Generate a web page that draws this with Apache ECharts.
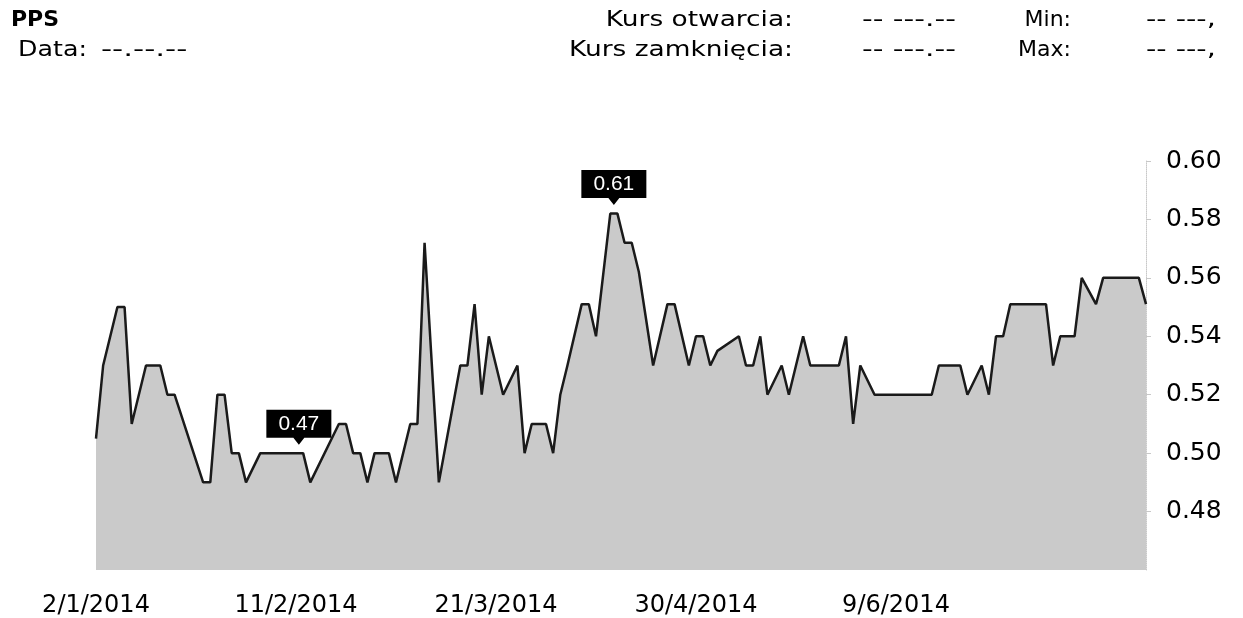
<!DOCTYPE html>
<html>
<head>
<meta charset="utf-8">
<title>PPS</title>
<script src="https://cdn.jsdelivr.net/npm/echarts@6/dist/echarts.min.js"></script>
<style>
    html, body { margin: 0; padding: 0; background: #fff; }
    #chart { width: 1243px; height: 618px; }
</style>
</head>
<body>
<div id="chart"></div>
<script>
// trading day index of each vertex of the close line
const dayIndex = [0, 1, 3, 4, 5, 7, 9, 10, 11, 15, 16, 17, 18, 19, 20, 21, 23, 29, 30,
    34, 35, 36, 37, 38, 39, 41, 42, 44, 45, 46, 48, 51, 52, 53, 54, 55, 57, 59, 60,
    61, 63, 64, 65, 66, 68, 69, 70, 72, 73, 74, 75, 76, 78, 80, 81, 83, 84, 85, 86,
    87, 90, 91, 92, 93, 94, 96, 97, 99, 100, 104, 105, 106, 107, 109, 117, 118, 121,
    122, 124, 125, 126, 127, 128, 133, 134, 135, 137, 138, 140, 141, 146, 147];
// close price at those days
const closeValues = [0.505, 0.53, 0.55, 0.55, 0.51, 0.53, 0.53, 0.52, 0.52, 0.49, 0.49, 0.52, 0.52, 0.50, 0.50, 0.49, 0.50, 0.50, 0.49,
    0.51, 0.51, 0.50, 0.50, 0.49, 0.50, 0.50, 0.49, 0.51, 0.51, 0.572, 0.49, 0.53, 0.53, 0.551, 0.52, 0.54, 0.52, 0.53, 0.50,
    0.51, 0.51, 0.50, 0.52, 0.53, 0.551, 0.551, 0.54, 0.582, 0.582, 0.572, 0.572, 0.562, 0.53, 0.551, 0.551, 0.53, 0.54, 0.54, 0.53,
    0.535, 0.54, 0.53, 0.53, 0.54, 0.52, 0.53, 0.52, 0.54, 0.53, 0.53, 0.54, 0.51, 0.53, 0.52, 0.52, 0.53, 0.53,
    0.52, 0.53, 0.52, 0.54, 0.54, 0.551, 0.551, 0.53, 0.54, 0.54, 0.56, 0.551, 0.56, 0.56, 0.551];

// date labels every 28 trading days
const tickLabels = ['2/1/2014', '11/2/2014', '21/3/2014', '30/4/2014', '9/6/2014'];

// the two callouts shown on the chart
const calloutDays = [72.5, 28.4];
const calloutValues = [0.582, 0.50];
const calloutTexts = ['0.61', '0.47'];

const chart = echarts.init(document.getElementById('chart'));

const font = 'DejaVu Sans, Verdana, sans-serif';

// header text, stretched a bit to match the wide scan lettering
function headerText(x, y, text, align, bold, stretch) {
    return {
        type: 'text',
        x: x,
        y: y,
        scaleX: stretch || 1,
        style: {
            text: text,
            fill: '#000',
            font: (bold ? 'bold ' : '') + '22px ' + font,
            align: align || 'left',
            verticalAlign: 'middle'
        }
    };
}

const option = {
    backgroundColor: '#fff',
    animation: false,
    graphic: [
        headerText(11, 20, 'PPS', 'left', true),
        headerText(18, 50, 'Data:', 'left', false, 1.15),
        headerText(101, 50, '--.--.--', 'left', false, 1.4),
        headerText(793, 20, 'Kurs otwarcia:', 'right', false, 1.2),
        headerText(793, 50, 'Kurs zamknięcia:', 'right', false, 1.2),
        headerText(862, 20, '-- ---.--', 'left', false, 1.35),
        headerText(862, 50, '-- ---.--', 'left', false, 1.35),
        headerText(1071, 20, 'Min:', 'right', false, 1.0),
        headerText(1071, 50, 'Max:', 'right', false, 1.0),
        headerText(1146, 20, '-- ---,', 'left', false, 1.3),
        headerText(1146, 50, '-- ---,', 'left', false, 1.3)
    ],
    grid: {
        left: 96,
        right: 97,
        top: 161,
        bottom: 48
    },
    xAxis: {
        type: 'value',
        min: 0,
        max: 147,
        interval: 28,
        axisLine: { show: false },
        axisTick: { show: false },
        splitLine: { show: false },
        axisLabel: {
            margin: 24,
            fontSize: 24,
            fontFamily: font,
            color: '#000',
            formatter: function (v) {
                return tickLabels[v / 28] || '';
            }
        }
    },
    yAxis: {
        type: 'value',
        position: 'right',
        min: 0.46,
        max: 0.60,
        interval: 0.02,
        axisLine: {
            show: true,
            onZero: false,
            lineStyle: { color: '#c8c8c8', type: 'dotted', width: 1 }
        },
        axisTick: {
            show: true,
            length: 5,
            lineStyle: { color: '#c8c8c8' }
        },
        splitLine: { show: false },
        axisLabel: {
            margin: 20,
            fontSize: 25,
            fontFamily: font,
            color: '#000',
            showMinLabel: false,
            formatter: function (v) {
                return v.toFixed(2);
            }
        }
    },
    series: [
        {
            type: 'line',
            data: dayIndex.map(function (d, i) { return [d, closeValues[i]]; }),
            symbol: 'none',
            lineStyle: { color: '#1a1a1a', width: 2.5 },
            areaStyle: { color: '#cacaca', opacity: 1 },
            markPoint: {
                symbol: 'path://M0,0H65V28H38L32.5,35L27,28H0Z',
                symbolSize: [65, 35],
                symbolOffset: [0, -26],
                itemStyle: { color: '#000' },
                label: {
                    show: true,
                    color: '#fff',
                    fontSize: 21,
                    fontFamily: 'Liberation Sans, Arial, sans-serif',
                    offset: [0, -3]
                },
                data: calloutDays.map(function (d, i) {
                    return { coord: [d, calloutValues[i]], value: calloutTexts[i] };
                })
            }
        }
    ]
};

chart.setOption(option);
</script>
</body>
</html>
